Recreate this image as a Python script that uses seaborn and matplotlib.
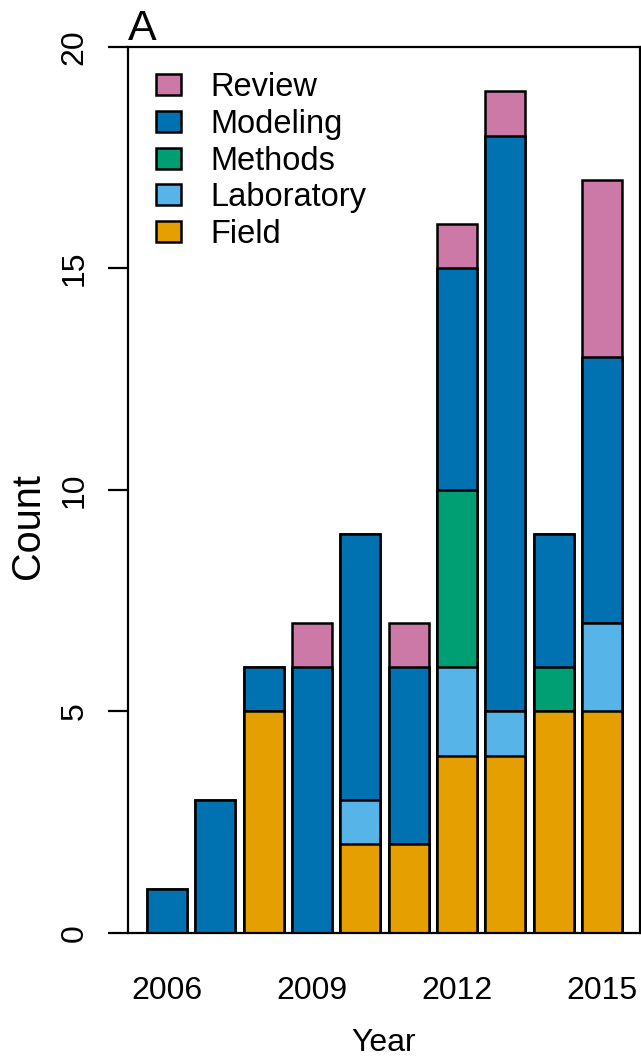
import numpy as np
import pandas as pd
import matplotlib
matplotlib.use("Agg")
import matplotlib.pyplot as plt
from matplotlib.patches import Patch
import seaborn as sns

# ---- data ----
years = ["2006", "2007", "2008", "2009", "2010", "2011", "2012", "2013", "2014", "2015"]
field = [0, 0, 5, 0, 2, 2, 4, 4, 5, 5]
laboratory = [0, 0, 0, 0, 1, 0, 2, 1, 0, 2]
methods = [0, 0, 0, 0, 0, 0, 4, 0, 1, 0]
modeling = [1, 3, 1, 6, 6, 4, 5, 13, 3, 6]
review = [0, 0, 0, 1, 0, 1, 1, 1, 0, 4]

categories = ["Field", "Laboratory", "Methods", "Modeling", "Review"]
series = [field, laboratory, methods, modeling, review]
colors = ["#E69F00", "#56B4E9", "#009E73", "#0072B2", "#CC79A7"]
xtick_years = ["2006", "2009", "2012", "2015"]
yticks = [0, 5, 10, 15, 20]

sns.set_style("white")
plt.rcParams["font.family"] = ["Liberation Sans", "DejaVu Sans"]
plt.rcParams["text.color"] = "black"
plt.rcParams["axes.labelcolor"] = "black"
plt.rcParams["xtick.color"] = "black"
plt.rcParams["ytick.color"] = "black"

fig = plt.figure(figsize=(6.41, 10.58), dpi=100)
ax = fig.add_axes([0.1992, 0.11815, 0.7992, 0.83743])

cum = np.cumsum(np.array(series, dtype=float), axis=0)
# draw from top category to bottom so lower layers cover upper ones
for i in range(len(categories) - 1, -1, -1):
    df = pd.DataFrame({"Year": years, "value": cum[i]})
    sns.barplot(data=df, x="Year", y="value", order=years, color=colors[i],
                saturation=1, errorbar=None, width=0.83,
                edgecolor="black", linewidth=1.8, ax=ax)

ax.set_xlim(-0.813, 9.787)
ax.set_ylim(0, 20)

pos = [years.index(y) for y in xtick_years]
ax.set_xticks(pos)
ax.set_xticklabels(xtick_years)
ax.set_yticks(yticks)
ax.set_yticklabels([str(v) for v in yticks])

ax.tick_params(axis="x", length=0, pad=31, labelsize=23, labelcolor="black")
ax.tick_params(axis="y", length=14.5, width=1.6, pad=13, labelsize=23,
               labelrotation=90, direction="out", color="black", left=True,
               labelcolor="black")
for lab in ax.get_yticklabels():
    lab.set_va("center")

for s in ax.spines.values():
    s.set_visible(True)
    s.set_color("black")
    s.set_linewidth(1.6)

ax.set_xlabel("Year", fontsize=23, color="black")
ax.xaxis.set_label_coords(0.5, -0.124)
ax.xaxis.label.set_va("center")
ax.set_ylabel("Count", fontsize=28.5, color="black")
ax.yaxis.set_label_coords(-0.195, 0.459)
ax.yaxis.label.set_va("center")

ax.text(0.0, 1.008, "A", transform=ax.transAxes, fontsize=31,
        ha="left", va="baseline", color="black")

handles = [Patch(facecolor=colors[i], edgecolor="black", linewidth=1.8,
                 label=categories[i]) for i in range(len(categories) - 1, -1, -1)]
leg = ax.legend(handles=handles, loc="upper left", bbox_to_anchor=(0.055, 0.972),
                frameon=False, fontsize=23.5, handlelength=0.77, handleheight=0.61,
                handletextpad=0.89, labelspacing=0.18, borderpad=0, borderaxespad=0)
for t in leg.get_texts():
    t.set_color("black")

fig.savefig("out.png", dpi=100)
